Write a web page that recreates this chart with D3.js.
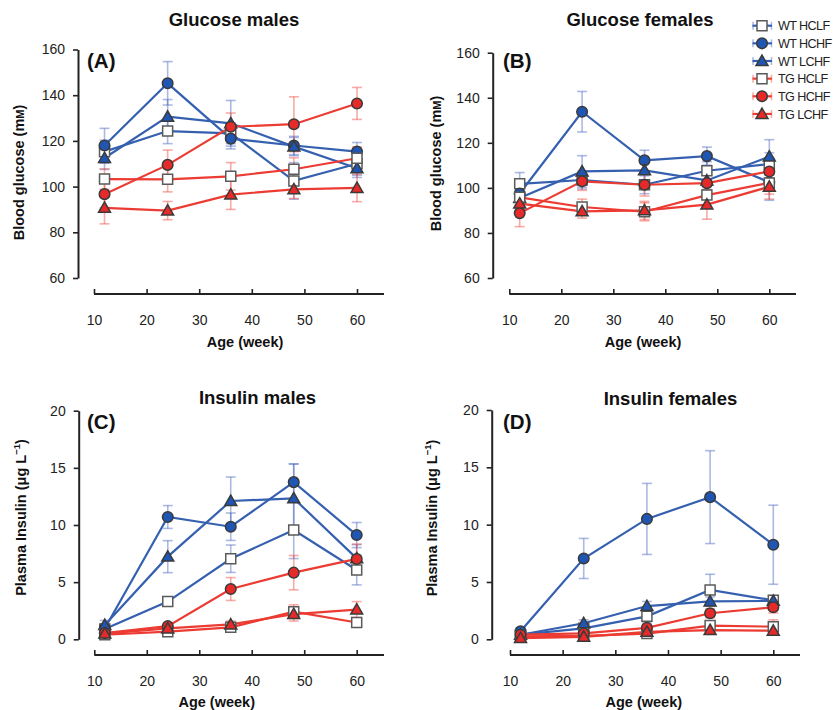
<!DOCTYPE html>
<html><head><meta charset="utf-8">
<script src="https://cdn.jsdelivr.net/npm/d3@7"></script>
<style>
body{margin:0;background:#fff}
svg{font-family:"Liberation Sans",Arial,Helvetica,sans-serif}
</style>
</head><body>
<svg id="chart" width="833" height="710"></svg>
<script>
// ---------- DATA ----------
const ages = [12, 24, 36, 48, 60];
const seriesNames = ["WT HCLF", "WT HCHF", "WT LCHF", "TG HCLF", "TG HCHF", "TG LCHF"];
const xTicks = [10, 20, 30, 40, 50, 60];
const glucoseTicks = [60, 80, 100, 120, 140, 160];
const insulinTicks = [0, 5, 10, 15, 20];

// Glucose males (mM) – order as seriesNames
const glucoseMalesMean = [
  [115.3, 124.3, 123.3, 102.5, 110.0],
  [118.0, 145.2, 121.0, 118.0, 115.3],
  [112.5, 130.6, 127.7, 117.5, 108.0],
  [103.3, 103.2, 104.5, 107.6, 112.4],
  [96.7, 109.5, 126.2, 127.3, 136.4],
  [90.7, 89.5, 96.5, 98.8, 99.4]
];
const glucoseMalesErr = [
  [5, 5.5, 4.5, 8, 5],
  [7.5, 9.5, 4.5, 4, 4],
  [5, 7.5, 10, 4, 4],
  [4.5, 5.5, 6, 5, 5],
  [6, 6.5, 6, 12, 7],
  [7, 4, 6.5, 4, 6]
];
// Glucose females (mM)
const glucoseFemalesMean = [
  [101.8, 103.5, 101.4, 107.6, 110.6],
  [97.5, 133.8, 112.2, 114.1, 102.5],
  [95.5, 107.3, 107.8, 103.3, 113.9],
  [95.8, 91.5, 89.4, 96.8, 102.2],
  [88.8, 102.9, 101.4, 102.1, 107.3],
  [93.0, 89.6, 90.0, 92.6, 100.5]
];
const glucoseFemalesErr = [
  [5, 4, 4, 4, 5],
  [5, 9, 4.5, 4, 8],
  [5, 7, 5, 4, 7.5],
  [4, 3.5, 4, 5, 5],
  [6, 4, 5, 5, 4],
  [5, 3, 4, 6.5, 5.5]
];
// Insulin males (ug/L)
const insulinMalesMean = [
  [0.9, 3.3, 7.05, 9.56, 6.06],
  [0.95, 10.7, 9.85, 13.75, 9.12],
  [1.25, 7.23, 12.1, 12.33, 7.08],
  [0.4, 0.67, 1.05, 2.42, 1.47],
  [0.55, 1.15, 4.4, 5.83, 7.03],
  [0.5, 0.95, 1.3, 2.2, 2.6]
];
const insulinMalesErr = [
  [0.3, 0.4, 1.2, 2.5, 1.3],
  [0.4, 1.0, 1.2, 1.6, 1.1],
  [0.4, 1.4, 2.1, 3.0, 1.2],
  [0.2, 0.2, 0.3, 0.6, 0.3],
  [0.2, 0.3, 1.0, 1.5, 1.3],
  [0.2, 0.2, 0.3, 0.6, 0.7]
];
// Insulin females (ug/L)
const insulinFemalesMean = [
  [0.4, 0.96, 2.0, 4.3, 3.4],
  [0.7, 7.05, 10.5, 12.4, 8.25],
  [0.4, 1.4, 2.9, 3.3, 3.35],
  [0.25, 0.3, 0.5, 1.2, 1.1],
  [0.4, 0.52, 1.0, 2.27, 2.8],
  [0.1, 0.22, 0.65, 0.8, 0.75]
];
const insulinFemalesErr = [
  [0.2, 0.3, 0.5, 1.37, 0.4],
  [0.3, 1.75, 3.1, 4.05, 3.45],
  [0.2, 0.3, 0.4, 0.4, 0.4],
  [0.1, 0.15, 0.2, 0.3, 0.6],
  [0.15, 0.2, 0.3, 0.4, 0.5],
  [0.1, 0.1, 0.2, 0.2, 0.2]
];

// ---------- STYLE ----------
const BLUE_LINE = "#3560b0", RED_LINE = "#ec3b32";
const BLUE_FILL = "#1f56b3", RED_FILL = "#e62a2a";
const BLUE_ERR = "rgba(70,100,190,0.45)", RED_ERR = "rgba(240,90,80,0.5)";
const styles = seriesNames.map((n, i) => {
  const wt = n.startsWith("WT");
  const shape = n.endsWith("HCLF") ? "square" : (n.endsWith("HCHF") ? "circle" : "triangle");
  return {
    line: wt ? BLUE_LINE : RED_LINE,
    err: wt ? BLUE_ERR : RED_ERR,
    fill: shape === "square" ? "#ffffff" : (wt ? BLUE_FILL : RED_FILL),
    stroke: shape === "square" ? "#5a5a5a" : "#3a3a3a",
    shape
  };
});
const symbolFor = s => s === "square" ? d3.symbol(d3.symbolSquare, 100)
  : s === "circle" ? d3.symbol(d3.symbolCircle, 88)
  : d3.symbol(d3.symbolTriangle, 62);

const svg = d3.select("#chart");

const panels = [
  {mean: glucoseMalesMean, err: glucoseMalesErr, ticks: glucoseTicks, dom: [60, 160],
   title: "Glucose males", letter: "(A)", kind: "g",
   yx: 78, yb: 278, yt: 49.5, xl: 94, xr: 357, xy: 294, xend: 384,
   tX: 234, tY: 26, lX: 87, lY: 68, ylX: 24, ylY: 172.5, xlX: 245, xlY: 347},
  {mean: glucoseFemalesMean, err: glucoseFemalesErr, ticks: glucoseTicks, dom: [60, 160],
   title: "Glucose females", letter: "(B)", kind: "g",
   yx: 492.7, yb: 278, yt: 52.7, xl: 509.3, xr: 769.3, xy: 294, xend: 796,
   tX: 640, tY: 26, lX: 503, lY: 68, ylX: 440.5, ylY: 163.5, xlX: 643, xlY: 347},
  {mean: insulinMalesMean, err: insulinMalesErr, ticks: insulinTicks, dom: [0, 20],
   title: "Insulin males", letter: "(C)", kind: "i",
   yx: 78.7, yb: 639.3, yt: 410.7, xl: 94.3, xr: 356.7, xy: 655, xend: 384,
   tX: 257.5, tY: 403.5, lX: 87, lY: 428.5, ylX: 26, ylY: 517.5, xlX: 216.7, xlY: 706.5},
  {mean: insulinFemalesMean, err: insulinFemalesErr, ticks: insulinTicks, dom: [0, 20],
   title: "Insulin females", letter: "(D)", kind: "i",
   yx: 491.7, yb: 639.3, yt: 410, xl: 510, xr: 773.3, xy: 655, xend: 800,
   tX: 670.5, tY: 404.5, lX: 503, lY: 428.5, ylX: 437, ylY: 518, xlX: 643.8, xlY: 707}
];

panels.forEach(p => {
  const x = d3.scaleLinear().domain([10, 60]).range([p.xl, p.xr]);
  const y = d3.scaleLinear().domain(p.dom).range([p.yb, p.yt]);
  const g = svg.append("g");

  // y axis
  const ya = g.append("g").attr("transform", `translate(${p.yx},0)`)
    .call(d3.axisLeft(y).tickValues(p.ticks).tickSizeInner(5).tickSizeOuter(0).tickPadding(8));
  ya.select(".domain").attr("stroke", "#222").attr("stroke-width", 2);
  ya.selectAll(".tick line").attr("stroke", "#222").attr("stroke-width", 1.6);
  ya.selectAll("text").attr("font-size", 14).attr("fill", "#222")
    .attr("font-family", '"Liberation Sans",Arial,sans-serif');

  // x axis
  const xa = g.append("g").attr("transform", `translate(0,${p.xy})`)
    .call(d3.axisBottom(x).tickValues(xTicks).tickSizeInner(-5).tickSizeOuter(0).tickPadding(21));
  xa.select(".domain").remove();
  xa.append("line").attr("x1", x(10)).attr("x2", p.xend).attr("stroke", "#222").attr("stroke-width", 2);
  xa.selectAll(".tick line").attr("stroke", "#222").attr("stroke-width", 1.6);
  xa.selectAll("text").attr("font-size", 14).attr("fill", "#222")
    .attr("font-family", '"Liberation Sans",Arial,sans-serif');

  // error bars
  p.mean.forEach((ser, si) => {
    const st = styles[si];
    const eg = g.append("g").attr("stroke", st.err).attr("stroke-width", 1.6);
    ser.forEach((v, j) => {
      const e = p.err[si][j];
      const cx = x(ages[j]);
      eg.append("line").attr("x1", cx).attr("x2", cx).attr("y1", y(v - e)).attr("y2", y(v + e));
      [v - e, v + e].forEach(w => eg.append("line").attr("x1", cx - 5).attr("x2", cx + 5)
        .attr("y1", y(w)).attr("y2", y(w)));
    });
  });
  // lines
  const line = d3.line().x((d, j) => x(ages[j])).y(d => y(d));
  p.mean.forEach((ser, si) => {
    g.append("path").attr("d", line(ser)).attr("fill", "none")
      .attr("stroke", styles[si].line).attr("stroke-width", 2.2);
  });
  // markers
  p.mean.forEach((ser, si) => {
    const st = styles[si];
    ser.forEach((v, j) => {
      g.append("path").attr("d", symbolFor(st.shape)())
        .attr("transform", `translate(${x(ages[j])},${y(v) + (st.shape === "triangle" ? 1 : 0)})`)
        .attr("fill", st.fill).attr("stroke", st.stroke).attr("stroke-width", 1.5);
    });
  });

  // texts
  g.append("text").attr("x", p.tX).attr("y", p.tY).attr("text-anchor", "middle")
    .attr("font-weight", "bold").attr("font-size", 18.5).attr("fill", "#111").text(p.title);
  g.append("text").attr("x", p.lX).attr("y", p.lY)
    .attr("font-weight", "bold").attr("font-size", 20.5).attr("fill", "#111").text(p.letter);
  g.append("text").attr("x", p.xlX).attr("y", p.xlY).attr("text-anchor", "middle")
    .attr("font-weight", "bold").attr("font-size", 14.5).attr("fill", "#111").text("Age (week)");
  const yl = g.append("text").attr("transform", `translate(${p.ylX},${p.ylY}) rotate(-90)`)
    .attr("text-anchor", "middle").attr("font-weight", "bold").attr("font-size", 14.5).attr("fill", "#111");
  if (p.kind === "g") {
    yl.append("tspan").text("Blood glucose (m");
    yl.append("tspan").attr("font-size", 11).text("M");
    yl.append("tspan").text(")");
  } else {
    yl.append("tspan").text("Plasma Insulin (\u03bcg L");
    yl.append("tspan").attr("font-size", 9.5).attr("dy", -6).text("\u22121");
    yl.append("tspan").attr("dy", 6).text(")");
  }
});

// legend
const lg = svg.append("g");
seriesNames.forEach((n, i) => {
  const st = styles[i];
  const cy = 25.7 + i * 17.65;
  lg.append("line").attr("x1", 752.5).attr("x2", 772).attr("y1", cy).attr("y2", cy)
    .attr("stroke", st.line).attr("stroke-width", 2.2);
  lg.append("line").attr("x1", 753).attr("x2", 753).attr("y1", cy - 4).attr("y2", cy + 4)
    .attr("stroke", st.err).attr("stroke-width", 1.5);
  lg.append("line").attr("x1", 771.5).attr("x2", 771.5).attr("y1", cy - 4).attr("y2", cy + 4)
    .attr("stroke", st.err).attr("stroke-width", 1.5);
  lg.append("path").attr("d", symbolFor(st.shape)())
    .attr("transform", `translate(762,${cy + (st.shape === "triangle" ? 1 : 0)})`)
    .attr("fill", st.fill).attr("stroke", st.stroke).attr("stroke-width", 1.5);
  lg.append("text").attr("x", 778).attr("y", cy + 4.6).attr("font-size", 12.6)
    .attr("fill", "#222").attr("letter-spacing", -0.6).text(n);
});
</script>
</body></html>
